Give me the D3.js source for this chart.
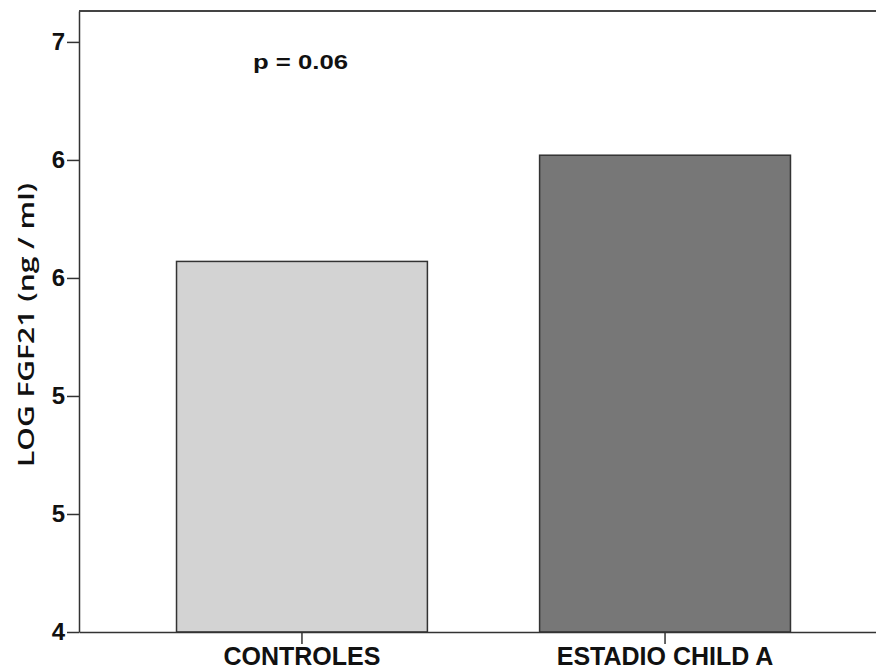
<!DOCTYPE html>
<html>
<head>
<meta charset="utf-8">
<script src="https://cdn.jsdelivr.net/npm/d3@7"></script>
<style>
  html, body { margin: 0; padding: 0; background: #fff; }
  svg { display: block; }
</style>
</head>
<body>
<svg id="chart" width="876" height="671"></svg>
<script>
// ---- data ----
const categories = ["CONTROLES", "ESTADIO CHILD A"];
const values = [5.57, 6.02];
const barColors = ["#d3d3d3", "#777777"];
const yTickValues = [4, 4.5, 5, 5.5, 6, 6.5];
const yTickLabels = ["4", "5", "5", "6", "6", "7"];
const yLabel = "LOG FGF21 (ng / ml)";
const annotation = "p = 0.06";

// ---- layout ----
const W = 876, H = 671;
const mLeft = 79, mTop = 11, mBottom = 632;
const svg = d3.select("#chart");

const y = d3.scaleLinear().domain([4, 6.631]).range([mBottom, mTop]);
const x = d3.scaleBand().domain(categories).range([mLeft, 888])
  .paddingInner(0.309).paddingOuter(0.2686);

// bars
svg.append("g").selectAll("rect").data(categories).join("rect")
  .attr("x", d => x(d))
  .attr("y", (d, i) => y(values[i]))
  .attr("width", x.bandwidth())
  .attr("height", (d, i) => y(4) - y(values[i]))
  .attr("fill", (d, i) => barColors[i])
  .attr("stroke", "#333")
  .attr("stroke-width", 1.5);

// top frame line
svg.append("line")
  .attr("x1", mLeft).attr("x2", W)
  .attr("y1", mTop).attr("y2", mTop)
  .attr("stroke", "#444").attr("stroke-width", 2);

// y axis
const yAxis = d3.axisLeft(y)
  .tickValues(yTickValues)
  .tickFormat((d, i) => yTickLabels[i])
  .tickSize(12).tickPadding(2).tickSizeOuter(0);
const gy = svg.append("g").attr("transform", `translate(${mLeft},0)`).call(yAxis);
gy.select(".domain").attr("stroke", "#333").attr("stroke-width", 1.5);
gy.selectAll(".tick line").attr("stroke", "#333").attr("stroke-width", 1.5);
gy.selectAll(".tick text")
  .attr("fill", "#111")
  .style("font-family", "'Liberation Sans', Arial, sans-serif")
  .style("font-weight", "bold")
  .style("font-size", "24px");

// x axis
const xAxis = d3.axisBottom(x).tickSize(12).tickPadding(6).tickSizeOuter(0);
const gx = svg.append("g").attr("transform", `translate(0,${mBottom})`).call(xAxis);
gx.select(".domain").attr("stroke", "#333").attr("stroke-width", 1.5);
gx.selectAll(".tick line").attr("stroke", "#333").attr("stroke-width", 1.5);
gx.selectAll(".tick text")
  .attr("fill", "#111")
  .attr("y", 33).attr("dy", null)
  .style("font-family", "'Liberation Sans', Arial, sans-serif")
  .style("font-weight", "bold")
  .style("font-size", "25px");

// y label
svg.append("text")
  .attr("transform", `translate(34,325) rotate(-90)`)
  .attr("text-anchor", "middle")
  .attr("fill", "#111")
  .attr("textLength", 284)
  .attr("lengthAdjust", "spacingAndGlyphs")
  .style("font-family", "'Open Sans', 'Noto Sans', sans-serif")
  .style("font-weight", "600")
  .style("font-size", "22px")
  .text(yLabel);

// annotation
svg.append("text")
  .attr("x", 253).attr("y", 69)
  .attr("fill", "#111")
  .attr("textLength", 95)
  .attr("lengthAdjust", "spacingAndGlyphs")
  .style("font-family", "'Liberation Sans', Arial, sans-serif")
  .style("font-weight", "bold")
  .style("font-size", "20px")
  .text(annotation);
</script>
</body>
</html>
